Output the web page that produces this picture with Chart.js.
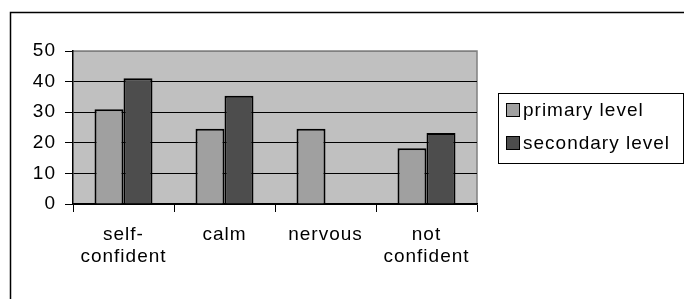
<!DOCTYPE html>
<html>
<head>
<meta charset="utf-8">
<script src="https://cdn.jsdelivr.net/npm/chart.js@4/dist/chart.umd.min.js"></script>
<style>
  html, body { margin: 0; padding: 0; background: #fff; }
  #wrap { width: 684px; height: 299px; position: relative; }
</style>
</head>
<body>
<div id="wrap"><canvas id="chart" width="684" height="299"></canvas></div>
<script>
const categories = [["self-", "confident"], "calm", "nervous", ["not", "confident"]];
const seriesNames = ["primary level", "secondary level"];
const primaryValues = [31, 24.6, 24.6, 18.2];
const secondaryValues = [41.1, 35.4, null, 23.2];
const yTicks = [0, 10, 20, 30, 40, 50];
const seriesColors = ["#a0a0a0", "#4d4d4d"];

const FONT = "Arial, 'Liberation Sans', sans-serif";
const SPACING = "1px";

// Excel style frame, plot background and boxed legend
const excelLook = {
    id: 'excelLook',
    beforeLayout(chart) { chart.ctx.letterSpacing = SPACING; },
    beforeDraw(chart) {
        const ctx = chart.ctx;
        const a = chart.chartArea;
        ctx.letterSpacing = SPACING;
        ctx.save();
        ctx.fillStyle = '#fff';
        ctx.fillRect(0, 0, chart.width, chart.height);
        ctx.strokeStyle = '#000';
        ctx.lineWidth = 1.5;
        ctx.beginPath();
        ctx.moveTo(10.5, chart.height);
        ctx.lineTo(10.5, 12.5);
        ctx.lineTo(chart.width, 12.5);
        ctx.stroke();
        ctx.fillStyle = '#c0c0c0';
        ctx.fillRect(a.left, a.top, a.right - a.left, a.bottom - a.top);
        ctx.strokeStyle = '#808080';
        ctx.lineWidth = 1.5;
        ctx.beginPath();
        ctx.moveTo(a.left, a.top);
        ctx.lineTo(a.right, a.top);
        ctx.lineTo(a.right, a.bottom);
        ctx.stroke();
        ctx.restore();
    },
    afterDraw(chart) {
        const ctx = chart.ctx;
        ctx.save();
        ctx.strokeStyle = '#000';
        ctx.lineWidth = 1;
        ctx.strokeRect(498.5, 93.5, 185, 70);
        ctx.font = '19px ' + FONT;
        ctx.textBaseline = 'middle';
        ctx.textAlign = 'left';
        chart.data.datasets.forEach((ds, i) => {
            const y = 103 + i * 33;
            ctx.fillStyle = ds.backgroundColor;
            ctx.fillRect(506, y, 14, 14);
            ctx.strokeRect(506.5, y + 0.5, 13, 13);
            ctx.fillStyle = '#000';
            ctx.fillText(ds.label, 523, y + 8);
        });
        ctx.restore();
    }
};

new Chart(document.getElementById('chart'), {
    type: 'bar',
    data: {
        labels: categories,
        datasets: [
            { label: seriesNames[0], data: primaryValues, backgroundColor: seriesColors[0] },
            { label: seriesNames[1], data: secondaryValues, backgroundColor: seriesColors[1] }
        ].map(d => ({ ...d, borderColor: '#000', borderWidth: 2, barPercentage: 1, categoryPercentage: 0.574 }))
    },
    options: {
        responsive: false,
        animation: false,
        devicePixelRatio: 1,
        layout: { padding: { top: 51, right: 207, left: 0, bottom: 0 } },
        plugins: { legend: { display: false }, tooltip: { enabled: false } },
        scales: {
            x: {
                afterFit: s => { s.height = 95; },
                border: { color: '#000', width: 1.5 },
                grid: { offset: true, drawOnChartArea: false, drawTicks: true, tickLength: 8, color: '#000', tickColor: '#000' },
                ticks: { color: '#000', padding: 12, maxRotation: 0, autoSkip: false, font: { family: FONT, size: 19, lineHeight: 1.15 } }
            },
            y: {
                min: 0, max: 50,
                afterFit: s => { s.width = 73; },
                afterBuildTicks: s => { s.ticks = yTicks.map(v => ({ value: v })); },
                border: { color: '#000', width: 1.5 },
                grid: {
                    color: c => c.tick && c.tick.value === 50 ? '#808080' : '#000',
                    lineWidth: 1, tickLength: 8, tickColor: '#000'
                },
                ticks: { color: '#000', padding: 9, font: { family: FONT, size: 19 } }
            }
        }
    },
    plugins: [excelLook]
});
</script>
</body>
</html>
